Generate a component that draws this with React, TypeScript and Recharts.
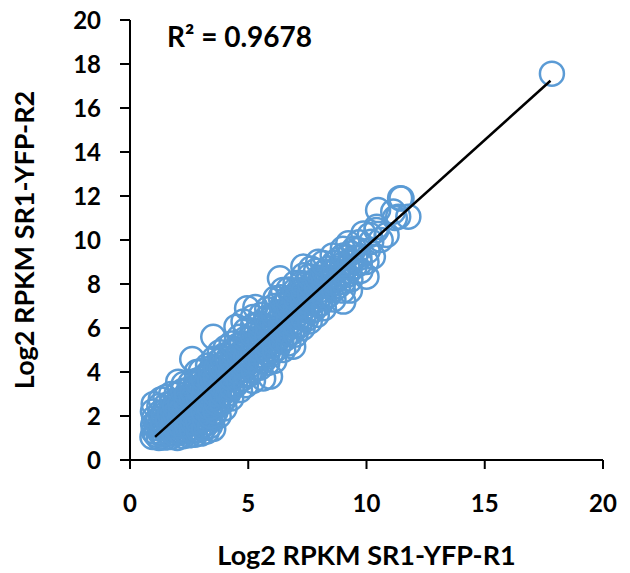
import type { FC, ReactNode } from 'react'

import { ScatterChart, Scatter, XAxis, YAxis } from 'recharts'

// [R1, R2] pairs, split by region along the diagonal
const lowBand: [number, number][] = [
    [0.95, 1.05], [1.0, 1.3], [0.98, 1.6], [1.02, 1.9], [0.97, 2.2], [1.0, 2.55],
    [1.22, 1.0], [1.27, 1.25], [1.25, 1.55], [1.2, 1.85], [1.28, 2.15], [1.24, 2.45], [1.3, 2.75],
    [1.48, 1.02], [1.52, 1.3], [1.5, 1.6], [1.55, 1.9], [1.47, 2.2], [1.53, 2.5], [1.5, 2.85],
    [1.73, 1.05], [1.78, 1.35], [1.75, 1.65], [1.72, 1.95], [1.8, 2.3], [1.76, 2.6], [1.74, 3.0],
    [2.0, 1.0], [2.03, 1.3], [1.98, 1.6], [2.05, 1.95], [2.0, 2.3], [2.02, 2.65], [1.97, 3.0], [2.04, 3.56],
    [2.25, 1.08], [2.22, 1.4], [2.28, 1.75], [2.25, 2.1], [2.2, 2.45], [2.3, 2.8], [2.24, 3.15], [2.27, 3.45],
    [2.5, 1.12], [2.53, 1.45], [2.48, 1.8], [2.52, 2.15], [2.55, 2.5], [2.47, 2.85], [2.5, 3.2], [2.56, 3.5], [2.63, 4.59],
    [2.75, 1.15], [2.72, 1.5], [2.78, 1.85], [2.75, 2.2], [2.8, 2.55], [2.73, 2.9], [2.77, 3.25], [2.8, 3.6], [2.82, 4.0],
    [3.0, 1.2], [3.05, 1.55], [2.98, 1.9], [3.02, 2.3], [3.0, 2.65], [3.05, 3.0], [2.97, 3.35], [3.03, 3.7], [3.0, 4.05],
    [3.25, 1.3], [3.3, 1.7], [3.22, 2.1], [3.28, 2.5], [3.25, 2.85], [3.3, 3.2], [3.22, 3.55], [3.27, 3.9], [3.3, 4.3],
    [3.52, 1.42], [3.5, 1.9], [3.55, 2.35], [3.48, 2.75], [3.5, 3.1], [3.55, 3.5], [3.5, 3.85], [3.47, 4.2], [3.55, 4.6], [3.52, 5.6],
    [3.75, 2.0], [3.72, 2.5], [3.78, 2.9], [3.75, 3.3], [3.8, 3.7], [3.73, 4.1], [3.77, 4.5], [3.8, 4.9],
    [4.0, 2.35], [4.02, 2.8], [3.98, 3.2], [4.05, 3.6], [4.0, 4.0], [4.03, 4.4], [3.97, 4.75], [4.05, 5.1]
]

const midBand: [number, number][] = [
    [4.28, 2.8], [4.3, 3.3], [4.32, 3.7], [4.27, 4.1], [4.3, 4.5], [4.33, 4.9], [4.3, 5.3],
    [4.65, 3.18], [4.6, 3.6], [4.58, 4.0], [4.62, 4.4], [4.6, 4.8], [4.57, 5.2], [4.63, 5.6], [4.5, 6.06],
    [4.9, 3.4], [4.92, 3.85], [4.88, 4.3], [4.9, 4.7], [4.93, 5.1], [4.87, 5.5], [4.9, 5.9], [4.8, 6.3], [4.95, 6.9],
    [5.2, 3.6], [5.22, 4.1], [5.18, 4.5], [5.2, 4.9], [5.23, 5.3], [5.17, 5.7], [5.2, 6.1], [5.2, 6.5], [5.3, 6.95],
    [5.63, 3.71], [5.5, 4.2], [5.52, 4.6], [5.48, 5.0], [5.5, 5.4], [5.53, 5.8], [5.47, 6.2], [5.55, 6.6],
    [5.92, 3.79], [5.8, 4.4], [5.82, 4.85], [5.78, 5.25], [5.8, 5.65], [5.83, 6.05], [5.77, 6.45], [5.8, 6.85],
    [6.1, 4.5], [6.12, 5.0], [6.08, 5.4], [6.1, 5.8], [6.13, 6.2], [6.07, 6.6], [6.1, 7.0], [6.15, 7.35],
    [6.48, 5.0], [6.4, 5.4], [6.42, 5.8], [6.38, 6.2], [6.4, 6.6], [6.43, 7.0], [6.37, 7.4], [6.47, 7.73], [6.34, 8.26],
    [6.7, 5.3], [6.72, 5.75], [6.68, 6.15], [6.7, 6.55], [6.73, 6.95], [6.67, 7.35], [6.7, 7.75],
    [6.9, 5.15], [7.0, 5.7], [7.02, 6.1], [6.98, 6.5], [7.0, 6.9], [7.03, 7.3], [6.97, 7.7], [7.0, 8.05],
    [7.3, 6.0], [7.32, 6.45], [7.28, 6.85], [7.3, 7.25], [7.33, 7.65], [7.27, 8.05], [7.35, 8.4], [7.33, 8.79],
    [7.6, 6.3], [7.62, 6.75], [7.58, 7.15], [7.6, 7.55], [7.63, 7.95], [7.57, 8.35], [7.65, 8.7],
    [7.9, 6.6], [7.92, 7.05], [7.88, 7.45], [7.9, 7.85], [7.93, 8.25], [7.87, 8.6], [7.96, 9.01]
]

const highBand: [number, number][] = [
    [8.2, 6.9], [8.22, 7.35], [8.18, 7.75], [8.2, 8.15], [8.23, 8.55], [8.17, 8.95],
    [8.6, 7.3], [8.62, 7.75], [8.58, 8.15], [8.6, 8.55], [8.63, 8.95], [8.57, 9.3],
    [9.02, 7.2], [9.0, 7.7], [9.02, 8.1], [8.98, 8.5], [9.0, 8.9], [9.03, 9.3], [9.0, 9.6],
    [9.3, 7.7], [9.32, 8.2], [9.28, 8.6], [9.3, 9.0], [9.33, 9.4], [9.23, 9.85],
    [9.75, 8.6], [9.72, 8.95], [9.7, 9.2], [9.65, 9.55], [9.68, 9.9],
    [10.0, 8.33], [10.0, 9.0], [10.05, 9.5], [9.87, 10.3], [10.2, 9.92], [10.27, 9.24],
    [10.14, 10.23], [10.42, 10.45], [10.43, 10.6], [10.49, 11.36], [10.85, 10.23], [10.6, 10.0],
    [11.13, 11.29], [11.34, 11.06], [11.2, 11.0], [11.42, 11.9], [11.48, 11.89], [11.77, 11.06]
]

// the dense middle of the cloud
const coreBand: [number, number][] = [
    [1.1, 1.15], [1.15, 1.45], [1.12, 1.75], [1.35, 1.15], [1.4, 1.45], [1.38, 1.75], [1.42, 2.05],
    [1.62, 1.2], [1.65, 1.5], [1.6, 1.8], [1.68, 2.1], [1.88, 1.2], [1.9, 1.5], [1.86, 1.8], [1.92, 2.1], [1.9, 2.45],
    [2.12, 1.25], [2.15, 1.55], [2.1, 1.85], [2.14, 2.2], [2.12, 2.55],
    [2.38, 1.3], [2.4, 1.6], [2.36, 1.95], [2.42, 2.3], [2.38, 2.65], [2.4, 3.0],
    [2.62, 1.35], [2.65, 1.7], [2.6, 2.05], [2.66, 2.4], [2.62, 2.75], [2.64, 3.1],
    [2.9, 1.35], [2.88, 1.75], [2.92, 2.1], [2.86, 2.45], [2.9, 2.8], [2.92, 3.15], [2.88, 3.5],
    [3.12, 1.45], [3.15, 1.85], [3.1, 2.2], [3.16, 2.6], [3.12, 2.95], [3.14, 3.35], [3.1, 3.7],
    [3.38, 1.55], [3.4, 2.0], [3.36, 2.4], [3.42, 2.8], [3.4, 3.2], [3.38, 3.6], [3.42, 4.0],
    [3.62, 2.2], [3.65, 2.6], [3.6, 3.0], [3.66, 3.4], [3.62, 3.8], [3.64, 4.2],
    [3.88, 2.6], [3.9, 3.0], [3.86, 3.4], [3.92, 3.8], [3.88, 4.2], [3.9, 4.6],
    [4.15, 3.0], [4.18, 3.4], [4.12, 3.8], [4.16, 4.2], [4.14, 4.6],
    [4.45, 3.4], [4.42, 3.85], [4.47, 4.25], [4.44, 4.65], [4.46, 5.05],
    [4.75, 3.7], [4.78, 4.1], [4.72, 4.5], [4.76, 4.9], [4.74, 5.3],
    [5.05, 3.9], [5.08, 4.3], [5.02, 4.7], [5.06, 5.1], [5.04, 5.5],
    [5.35, 4.2], [5.38, 4.6], [5.32, 5.0], [5.36, 5.4], [5.34, 5.8],
    [5.65, 4.5], [5.68, 4.9], [5.62, 5.3], [5.66, 5.7], [5.64, 6.1],
    [5.95, 4.8], [5.98, 5.2], [5.92, 5.6], [5.96, 6.0], [5.94, 6.4],
    [6.25, 5.1], [6.28, 5.5], [6.22, 5.9], [6.26, 6.3], [6.24, 6.7],
    [6.55, 5.5], [6.58, 5.9], [6.52, 6.3], [6.56, 6.7], [6.54, 7.1],
    [6.85, 5.8], [6.88, 6.2], [6.82, 6.6], [6.86, 7.0], [6.84, 7.4],
    [7.15, 6.1], [7.18, 6.5], [7.12, 6.9], [7.16, 7.3], [7.14, 7.7],
    [7.45, 6.4], [7.48, 6.8], [7.42, 7.2], [7.46, 7.6], [7.44, 8.0],
    [7.75, 6.8], [7.78, 7.2], [7.72, 7.6], [7.76, 8.0],
    [8.05, 7.1], [8.08, 7.5], [8.02, 7.9], [8.06, 8.3],
    [8.4, 7.5], [8.42, 7.9], [8.38, 8.3], [8.4, 8.7],
    [8.8, 7.9], [8.82, 8.3], [8.78, 8.7], [8.8, 9.1],
    [9.15, 8.4], [9.18, 8.8], [9.12, 9.2], [9.5, 8.8], [9.52, 9.2], [9.48, 9.6]
]

const topOutlier: [number, number][] = [[17.84, 17.56]]

// linear fit, drawn from its two ends
const trendX = [1.06, 17.78]
const trendY = [1.05, 17.24]

const xTicks = [0, 5, 10, 15, 20]
const yTicks = [0, 2, 4, 6, 8, 10, 12, 14, 16, 18, 20]

const rSquared = 'R² = 0.9678'
const xTitle = 'Log2 RPKM SR1-YFP-R1'
const yTitle = 'Log2 RPKM SR1-YFP-R2'

const points = [...lowBand, ...coreBand, ...midBand, ...highBand, ...topOutlier].map(
    ([x, y]) => ({ x, y })
)
const trendData = trendX.map((x, i) => ({ x, y: trendY[i] }))

const FONT = 'Lato, sans-serif'
const tickStyle = { fontSize: 24, fontWeight: 700, fill: '#000', fontFamily: FONT }
const titleStyle = { fontSize: 27, fontWeight: 700, fill: '#000', fontFamily: FONT }
const axisStroke = { stroke: '#000', strokeWidth: 2 }

const Ring = (props: any) => (
    <circle
        cx={props.cx}
        cy={props.cy}
        r={12}
        fill='none'
        stroke='#5B9BD5'
        strokeWidth={2.5}
    />
)

const NoDot = () => <g />

const App: FC = (): ReactNode => {
    return (
        <div style={{ position: 'absolute', left: 0, top: 0, width: 630, height: 573 }}>
            <ScatterChart
                width={630}
                height={573}
                margin={{ top: 20, right: 27, bottom: 0, left: 0 }}
            >
                <XAxis
                    type='number'
                    dataKey='x'
                    domain={[0, 20]}
                    ticks={xTicks}
                    height={113}
                    tickSize={9}
                    tickMargin={26}
                    tick={tickStyle}
                    axisLine={axisStroke}
                    tickLine={axisStroke}
                    label={{
                        value: xTitle,
                        position: 'insideBottom',
                        offset: 8,
                        style: titleStyle
                    }}
                />
                <YAxis
                    type='number'
                    dataKey='y'
                    domain={[0, 20]}
                    ticks={yTicks}
                    width={130}
                    tickSize={10}
                    tickMargin={19}
                    tick={tickStyle}
                    axisLine={axisStroke}
                    tickLine={axisStroke}
                    label={{
                        value: yTitle,
                        angle: -90,
                        position: 'insideLeft',
                        offset: 24,
                        style: { ...titleStyle, textAnchor: 'middle' }
                    }}
                />
                <Scatter data={points} shape={Ring} isAnimationActive={false} />
                <Scatter
                    data={trendData}
                    line={{ stroke: '#000', strokeWidth: 2.5 }}
                    shape={NoDot}
                    isAnimationActive={false}
                />
            </ScatterChart>
            <div
                style={{
                    position: 'absolute',
                    left: 167,
                    top: 22,
                    fontFamily: FONT,
                    fontWeight: 700,
                    fontSize: 28,
                    lineHeight: 1,
                    color: '#000',
                    whiteSpace: 'nowrap'
                }}
            >
                {rSquared}
            </div>
        </div>
    )
}

export default App
